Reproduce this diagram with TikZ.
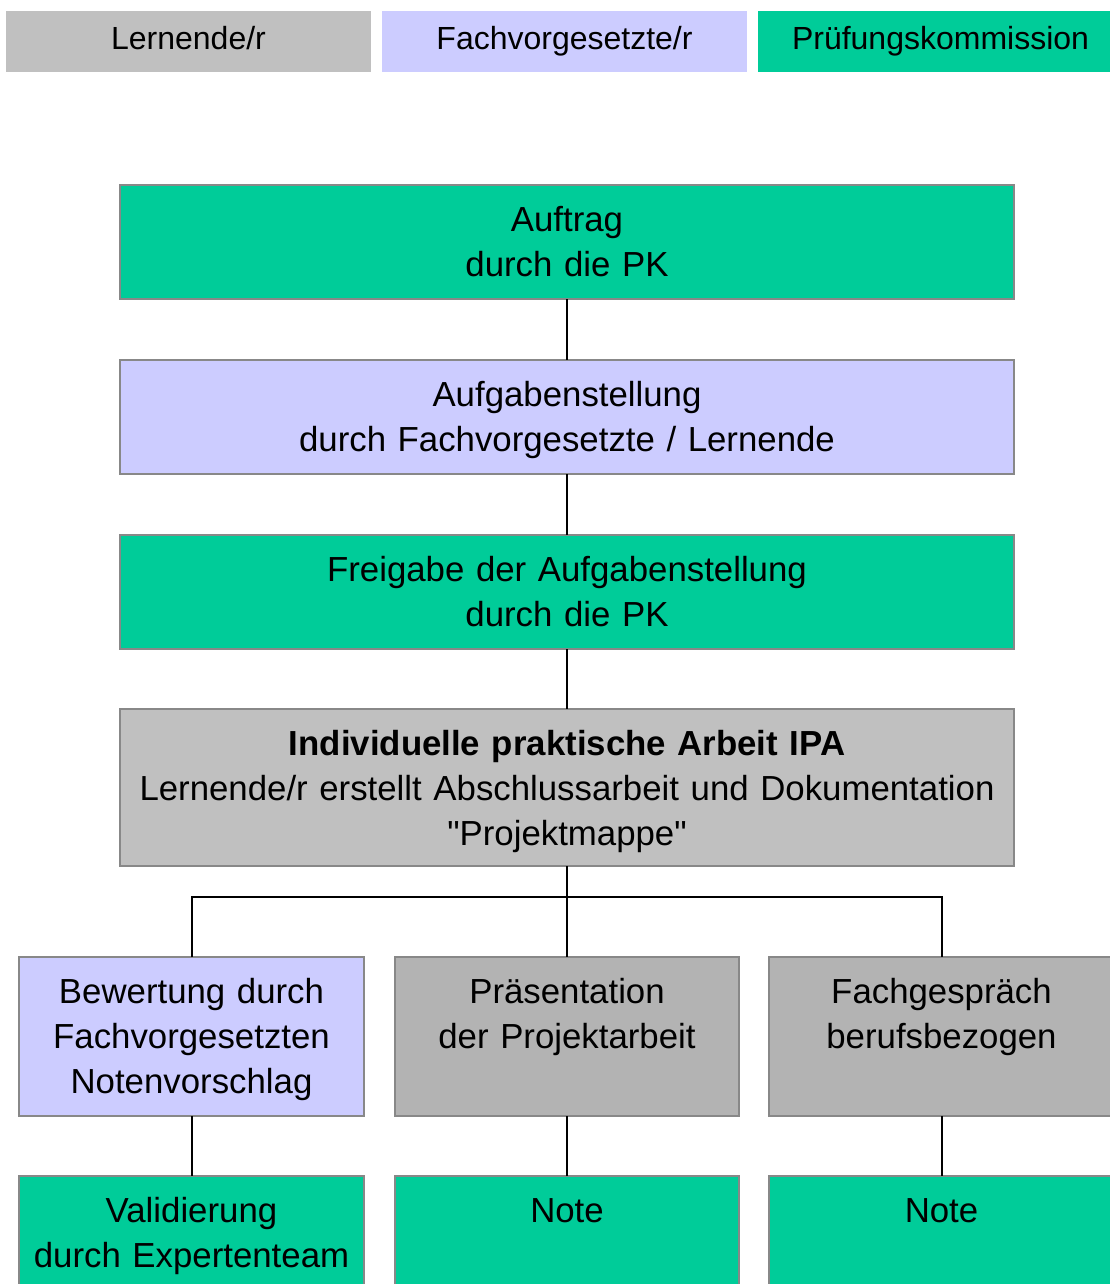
\documentclass[tikz,border=0pt]{standalone}
\usepackage{fontspec}
\newfontfamily\arial{Liberation Sans}
\definecolor{lgray}{HTML}{C0C0C0}
\definecolor{dgray}{HTML}{B3B3B3}
\definecolor{lav}{HTML}{CCCCFF}
\definecolor{pkgreen}{HTML}{00CC99}
\definecolor{edge}{HTML}{888888}
\begin{document}
\begin{tikzpicture}[x=1pt,y=-1pt,
  legend/.style={anchor=north west,inner sep=0pt,outer sep=0pt,minimum height=61pt,text height=24pt,text depth=7pt,font=\arial\fontsize{32}{40}\selectfont},
  box/.style={draw=edge,line width=2pt,anchor=north west,inner sep=0pt,outer sep=0pt},
  label/.style={anchor=base,inner sep=0pt,align=center,font=\arial\fontsize{34.8}{45}\selectfont},
  conn/.style={draw=black,line width=2pt}]
\useasboundingbox (0,0) rectangle (1110,1284);
\clip (0,0) rectangle (1110,1284);
% legend
\node[legend,fill=lgray,minimum width=365pt] (l1) at (6,11) {Lernende/r};
\node[legend,fill=lav,minimum width=365pt] (l2) at (382,11) {Fachvorgesetzte/r};
\node[legend,fill=pkgreen,minimum width=365pt] (l3) at (758,11) {Prüfungskommission};
% main column
\node[box,fill=pkgreen,minimum width=894pt,minimum height=114pt] (b1) at (120,185) {};
\node[box,fill=lav,minimum width=894pt,minimum height=114pt] (b2) at (120,360) {};
\node[box,fill=pkgreen,minimum width=894pt,minimum height=114pt] (b3) at (120,535) {};
\node[box,fill=lgray,minimum width=894pt,minimum height=157pt] (b4) at (120,709) {};
\node[label,text width=894pt] (t1) at ([yshift=-46pt]b1.north) {Auftrag\\durch die PK};
\node[label,text width=894pt] (t2) at ([yshift=-46pt]b2.north) {Aufgabenstellung\\durch Fachvorgesetzte / Lernende};
\node[label,text width=894pt] (t3) at ([yshift=-46pt]b3.north) {Freigabe der Aufgabenstellung\\durch die PK};
\node[label,text width=894pt] (t4) at ([yshift=-46pt]b4.north) {\textbf{Individuelle praktische Arbeit IPA}\\Lernende/r erstellt Abschlussarbeit und Dokumentation\\"Projektmappe"};
% second row
\node[box,fill=lav,minimum width=345pt,minimum height=159pt] (c1) at (19,957) {};
\node[box,fill=dgray,minimum width=344pt,minimum height=159pt] (c2) at (395,957) {};
\node[box,fill=dgray,minimum width=345pt,minimum height=159pt] (c3) at (769,957) {};
\node[label,text width=345pt] (u1) at ([yshift=-46pt]c1.north) {Bewertung durch\\Fachvorgesetzten\\Notenvorschlag};
\node[label,text width=344pt] (u2) at ([yshift=-46pt]c2.north) {Präsentation\\der Projektarbeit};
\node[label,text width=345pt] (u3) at ([yshift=-46pt]c3.north) {Fachgespräch\\berufsbezogen};
% third row
\node[box,fill=pkgreen,minimum width=345pt,minimum height=140pt] (d1) at (19,1176) {};
\node[box,fill=pkgreen,minimum width=344pt,minimum height=140pt] (d2) at (395,1176) {};
\node[box,fill=pkgreen,minimum width=345pt,minimum height=140pt] (d3) at (769,1176) {};
\node[label,text width=345pt] (v1) at ([yshift=-46pt]d1.north) {Validierung\\durch Expertenteam};
\node[label,text width=344pt] (v2) at ([yshift=-46pt]d2.north) {Note};
\node[label,text width=345pt] (v3) at ([yshift=-46pt]d3.north) {Note};
% connectors
\coordinate (bus) at ([yshift=-31pt]b4.south);
\draw[conn] (b1.south) -- (b2.north);
\draw[conn] (b2.south) -- (b3.north);
\draw[conn] (b3.south) -- (b4.north);
\draw[conn] (b4.south) -- (bus) -- (c2.north);
\draw[conn] (c1.north) |- (bus) -| (c3.north);
\draw[conn] (c1.south) -- (d1.north);
\draw[conn] (c2.south) -- (d2.north);
\draw[conn] (c3.south) -- (d3.north);
\end{tikzpicture}
\end{document}
